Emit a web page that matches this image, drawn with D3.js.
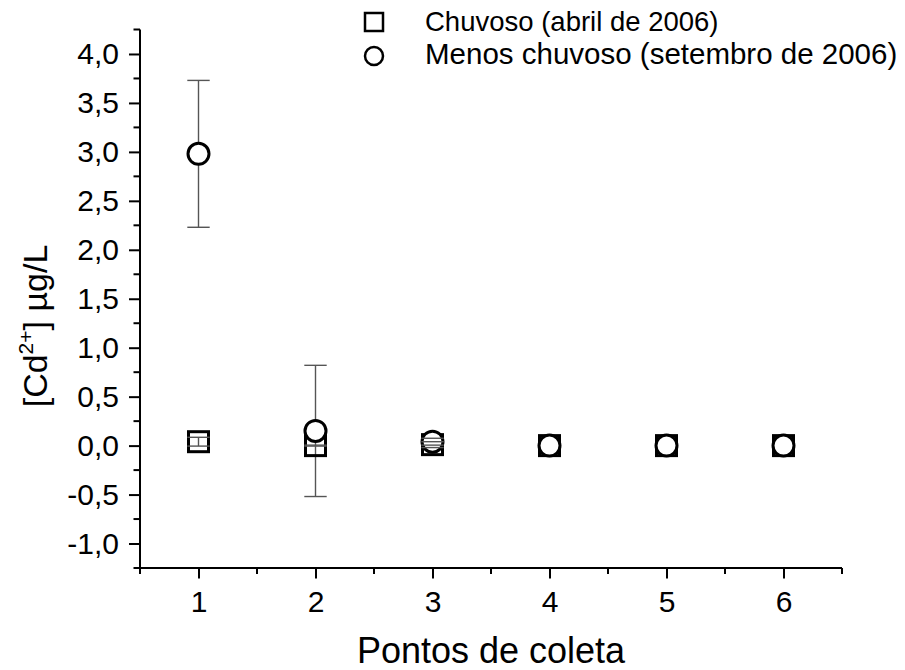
<!DOCTYPE html>
<html>
<head>
<meta charset="utf-8">
<script src="https://cdn.jsdelivr.net/npm/d3@7"></script>
<style>
  html, body { margin: 0; padding: 0; background: #fff; }
  svg { display: block; font-family: "Liberation Sans", Arial, Helvetica, sans-serif; }
</style>
</head>
<body>
<svg id="chart" width="905" height="670"></svg>
<script>
// Sampling points (x) and cadmium concentrations per season
const pontos = [1, 2, 3, 4, 5, 6];
const chuvoso = [0.04, 0.0, 0.01, 0.0, 0.0, 0.0];
const chuvosoErr = [0.045, 0.005, 0.03, 0.0, 0.0, 0.0];
const menosChuvoso = [2.98, 0.15, 0.04, 0.0, 0.0, 0.0];
const menosChuvosoErr = [0.75, 0.67, 0.035, 0.0, 0.0, 0.0];

const xTicks = [1, 2, 3, 4, 5, 6];
const yTicks = [-1.0, -0.5, 0.0, 0.5, 1.0, 1.5, 2.0, 2.5, 3.0, 3.5, 4.0];
const seriesNames = ["Chuvoso (abril de 2006)", "Menos chuvoso (setembro de 2006)"];
const xTitle = "Pontos de coleta";

const svg = d3.select("#chart");

const x = d3.scaleLinear().domain([0.5, 6.5]).range([140, 842]);
const y = d3.scaleLinear().domain([-1.25, 4.25]).range([568, 29.5]);

const ptBR = d3.formatLocale({ decimal: ",", thousands: ".", grouping: [3], currency: ["R$", ""], minus: "-" });
const fmt = ptBR.format(".1f");

const ink = "#000";
const errInk = "#555";
const fontFam = "'Liberation Sans', Arial, sans-serif";

// Minor ticks every half step between the labelled ones
const xMinor = d3.range(0.5, 6.51, 1);
const yMinor = d3.range(-1.25, 4.26, 0.5);

// Y axis
const yAxis = d3.axisLeft(y).tickValues(yTicks).tickFormat(fmt).tickSize(11).tickPadding(10);
const gy = svg.append("g").attr("transform", `translate(${x.range()[0]},0)`).call(yAxis);
gy.select(".domain").attr("stroke", ink).attr("stroke-width", 2)
  .attr("d", `M0,${y.range()[0]}V${y.range()[1]}`);
gy.selectAll(".tick line").attr("stroke", ink).attr("stroke-width", 2);
gy.selectAll(".tick text").attr("font-size", 30).attr("fill", ink).attr("font-family", fontFam);
gy.selectAll(".minor").data(yMinor).enter().append("line")
  .attr("class", "minor").attr("x1", -6.5).attr("x2", 0)
  .attr("y1", d => y(d)).attr("y2", d => y(d))
  .attr("stroke", ink).attr("stroke-width", 2);

// X axis
const xAxis = d3.axisBottom(x).tickValues(xTicks).tickFormat(d3.format("d")).tickSize(10.5).tickPadding(12);
const gx = svg.append("g").attr("transform", `translate(0,${y.range()[0]})`).call(xAxis);
gx.select(".domain").attr("stroke", ink).attr("stroke-width", 2)
  .attr("d", `M${x.range()[0] - 1},0H${x.range()[1]}`);
gx.selectAll(".tick line").attr("stroke", ink).attr("stroke-width", 2);
gx.selectAll(".tick text").attr("font-size", 30).attr("fill", ink).attr("font-family", fontFam);
gx.selectAll(".minor").data(xMinor).enter().append("line")
  .attr("class", "minor").attr("y1", 0).attr("y2", 6)
  .attr("x1", d => x(d)).attr("x2", d => x(d))
  .attr("stroke", ink).attr("stroke-width", 2);

// Axis titles
svg.append("text").attr("x", (x.range()[0] + x.range()[1]) / 2).attr("y", 663)
  .attr("text-anchor", "middle").attr("font-size", 36).attr("fill", ink).text(xTitle);

const yt = svg.append("text").attr("transform", "translate(47,326) rotate(-90)")
  .attr("text-anchor", "middle").attr("font-size", 34).attr("fill", ink);
yt.append("tspan").text("[Cd");
yt.append("tspan").attr("font-size", 21).attr("dy", -14).text("2+");
yt.append("tspan").attr("dy", 14).text("] µg/L");

// Data rows
const rowsA = pontos.map((p, i) => ({ p, v: chuvoso[i], e: chuvosoErr[i] }));
const rowsB = pontos.map((p, i) => ({ p, v: menosChuvoso[i], e: menosChuvosoErr[i] }));

const capHalf = 11.2;
const sq = 10;   // half side of the square marker
const rc = 10.5; // circle marker radius

// Error bar stems (behind markers)
const stems = svg.append("g").attr("stroke", errInk).attr("stroke-width", 1.4);
[rowsA, rowsB].forEach(rows => {
  stems.selectAll(null).data(rows.filter(d => d.e > 0)).enter().append("line")
    .attr("x1", d => x(d.p)).attr("x2", d => x(d.p))
    .attr("y1", d => y(d.v + d.e)).attr("y2", d => y(d.v - d.e));
});

// Squares (hollow)
svg.append("g").selectAll("rect").data(rowsA).enter().append("rect")
  .attr("x", d => x(d.p) - sq).attr("y", d => y(d.v) - sq)
  .attr("width", 2 * sq).attr("height", 2 * sq)
  .attr("fill", "none").attr("stroke", ink).attr("stroke-width", 3);

// Circles (white filled)
svg.append("g").selectAll("circle").data(rowsB).enter().append("circle")
  .attr("cx", d => x(d.p)).attr("cy", d => y(d.v)).attr("r", rc)
  .attr("fill", "#fff").attr("stroke", ink).attr("stroke-width", 3);

// Error bar caps (on top)
const caps = svg.append("g").attr("stroke", errInk).attr("stroke-width", 1.4);
[rowsA, rowsB].forEach(rows => {
  const withErr = rows.filter(d => d.e > 0);
  ["+", "-"].forEach(sign => {
    caps.selectAll(null).data(withErr).enter().append("line")
      .attr("x1", d => x(d.p) - capHalf).attr("x2", d => x(d.p) + capHalf)
      .attr("y1", d => y(sign === "+" ? d.v + d.e : d.v - d.e))
      .attr("y2", d => y(sign === "+" ? d.v + d.e : d.v - d.e));
  });
});

// Legend
const lg = svg.append("g");
lg.append("rect").attr("x", 374 - 9).attr("y", 22 - 9).attr("width", 18).attr("height", 18)
  .attr("fill", "none").attr("stroke", ink).attr("stroke-width", 2.5);
lg.append("circle").attr("cx", 374).attr("cy", 56).attr("r", 9)
  .attr("fill", "#fff").attr("stroke", ink).attr("stroke-width", 2.5);
lg.append("text").attr("x", 425).attr("y", 31).attr("font-size", 27.5).attr("fill", ink).text(seriesNames[0]);
lg.append("text").attr("x", 425).attr("y", 64).attr("font-size", 29.5).attr("fill", ink).text(seriesNames[1]);
</script>
</body>
</html>
